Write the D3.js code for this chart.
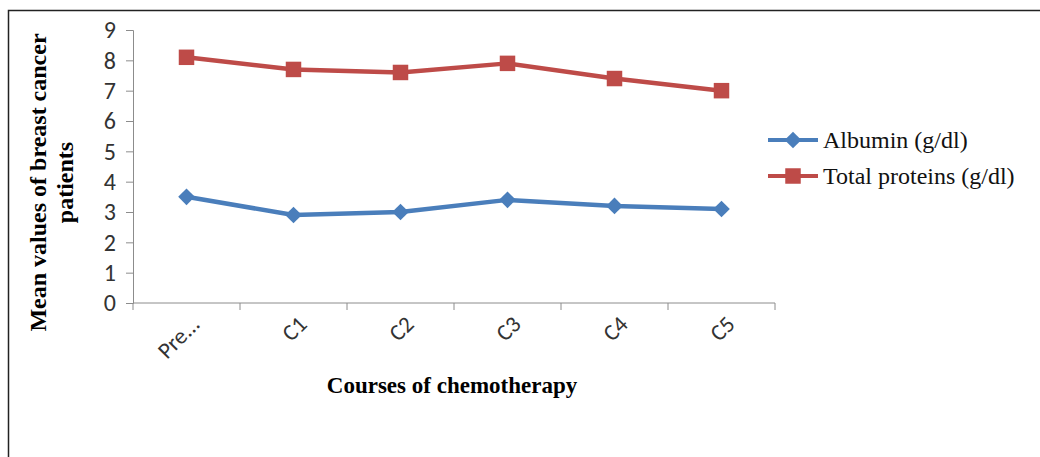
<!DOCTYPE html>
<html>
<head>
<meta charset="utf-8">
<script src="https://cdn.jsdelivr.net/npm/d3@7"></script>
<style>
  body { margin: 0; background: #fff; }
</style>
</head>
<body>
<script>
const categories = ["Pre...", "C1", "C2", "C3", "C4", "C5"];
const albumin = [3.5, 2.9, 3.0, 3.4, 3.2, 3.1];
const totalProteins = [8.1, 7.7, 7.6, 7.9, 7.4, 7.0];
const yTicks = [0, 1, 2, 3, 4, 5, 6, 7, 8, 9];

const series = [
  {name: "Albumin (g/dl)", values: albumin, color: "#4A7EBB", marker: "diamond"},
  {name: "Total proteins (g/dl)", values: totalProteins, color: "#BE4B48", marker: "square"}
];

const width = 1040, height = 457;
const margin = {left: 133, right: 265, top: 30, bottom: 154};
const tickFont = "Carlito, 'Open Sans', sans-serif";

// square symbol, rotated 45deg for the diamond
const markerPath = d3.symbol().type(d3.symbolSquare).size(240)();
const markerTransform = m => m === "diamond" ? " rotate(45) scale(0.76)" : "";

const svg = d3.select("body").append("svg")
    .attr("width", width)
    .attr("height", height);

// outer frame (left + top edges only visible)
svg.append("path")
    .attr("d", `M8.5,${height} L8.5,10.5 L${width},10.5`)
    .attr("fill", "none")
    .attr("stroke", "#222")
    .attr("stroke-width", 1.5);

const x = d3.scaleBand()
    .domain(categories)
    .range([margin.left, width - margin.right]);

const y = d3.scaleLinear()
    .domain([0, 9])
    .range([height - margin.bottom, margin.top]);

// y axis
const yAxis = svg.append("g")
    .attr("transform", `translate(${margin.left},0)`)
    .call(d3.axisLeft(y).tickValues(yTicks).tickSize(7).tickPadding(10))
    .attr("font-size", 24)
    .attr("font-family", tickFont);
yAxis.select(".domain").attr("stroke", "#8c8c8c");
yAxis.selectAll(".tick line").attr("stroke", "#8c8c8c");
yAxis.selectAll(".tick text").attr("fill", "#333");

// x axis with ticks at band edges
const xAxisG = svg.append("g")
    .attr("transform", `translate(0,${y(0)})`)
    .attr("font-size", 23)
    .attr("font-family", tickFont);
xAxisG.append("line")
    .attr("x1", x.range()[0]).attr("x2", x.range()[1])
    .attr("stroke", "#8c8c8c");
const edges = categories.map(c => x(c)).concat([x.range()[1]]);
xAxisG.selectAll("line.tk")
  .data(edges)
  .join("line")
    .attr("class", "tk")
    .attr("x1", d => d).attr("x2", d => d)
    .attr("y1", 0).attr("y2", 7)
    .attr("stroke", "#8c8c8c");
xAxisG.selectAll("text")
  .data(categories)
  .join("text")
    .attr("transform", d => `translate(${x(d) + x.bandwidth() / 2 + 9},${17}) rotate(-45)`)
    .attr("text-anchor", "end")
    .attr("dy", "0.35em")
    .attr("fill", "#333")
    .text(d => d);

// lines and markers
const line = d3.line()
    .x((d, i) => x(categories[i]) + x.bandwidth() / 2)
    .y(d => y(d));

series.forEach(s => {
  svg.append("path")
      .datum(s.values)
      .attr("fill", "none")
      .attr("stroke", s.color)
      .attr("stroke-width", 4.5)
      .attr("stroke-linejoin", "round")
      .attr("d", line);
  svg.append("g")
    .selectAll("path")
    .data(s.values)
    .join("path")
      .attr("transform", (d, i) => `translate(${x(categories[i]) + x.bandwidth() / 2},${y(d)})` + markerTransform(s.marker))
      .attr("d", markerPath)
      .attr("fill", s.color);
});

// axis titles
svg.append("text")
    .attr("transform", `translate(51,${(y(0) + y(9)) / 2 + 16}) rotate(-90)`)
    .attr("text-anchor", "middle")
    .style("font", "bold 24px 'Liberation Serif', 'Times New Roman', serif")
    .selectAll("tspan")
    .data(["Mean values of breast cancer", "patients"])
    .join("tspan")
      .attr("x", 0)
      .attr("dy", (d, i) => i === 0 ? "-0.2em" : "1.1em")
      .text(d => d);

svg.append("text")
    .attr("x", (x.range()[0] + x.range()[1]) / 2 - 2)
    .attr("y", 393)
    .attr("text-anchor", "middle")
    .style("font", "bold 23px 'Liberation Serif', 'Times New Roman', serif")
    .text("Courses of chemotherapy");

// legend
const legend = svg.append("g")
  .selectAll("g")
  .data(series)
  .join("g")
    .attr("transform", (d, i) => `translate(768,${140 + i * 36})`);
legend.append("line")
    .attr("x1", 0).attr("x2", 50)
    .attr("stroke", d => d.color)
    .attr("stroke-width", 4);
legend.append("path")
    .attr("transform", d => "translate(25,0)" + markerTransform(d.marker))
    .attr("d", markerPath)
    .attr("fill", d => d.color);
legend.append("text")
    .attr("x", 55)
    .attr("dy", "0.35em")
    .style("font", "24px 'Liberation Serif', 'Times New Roman', serif")
    .attr("fill", "#111")
    .text(d => d.name);
</script>
</body>
</html>
